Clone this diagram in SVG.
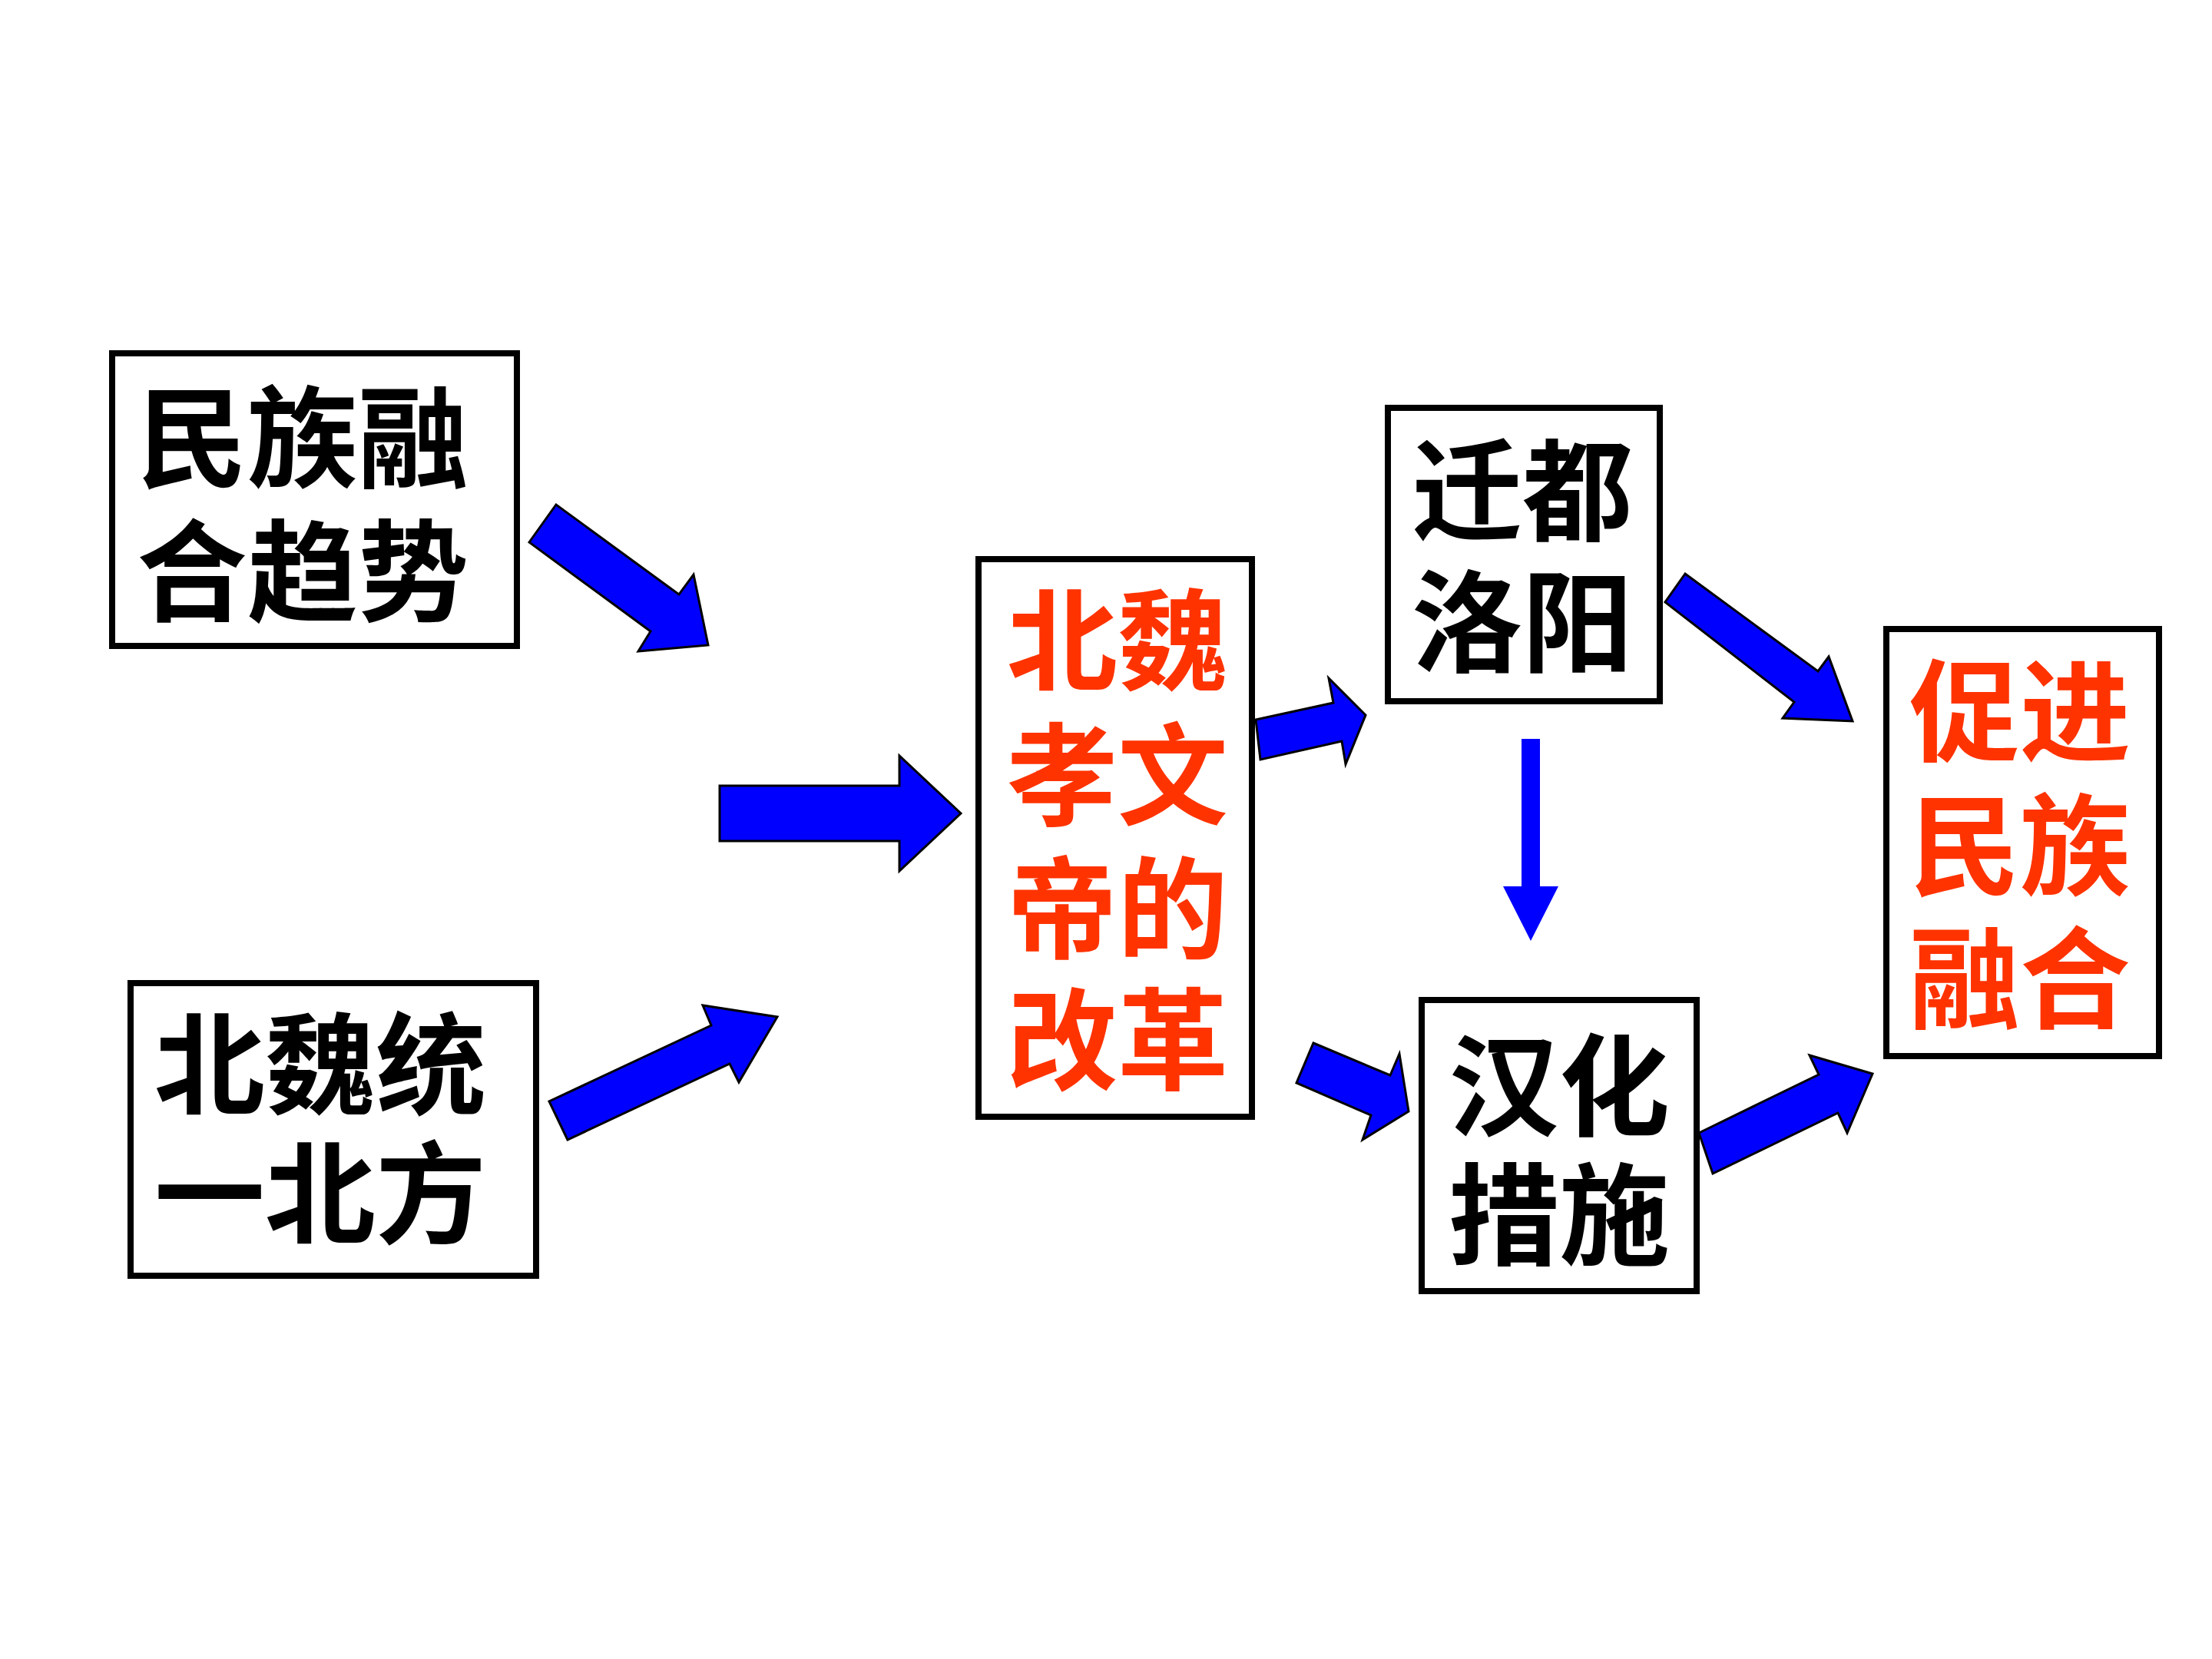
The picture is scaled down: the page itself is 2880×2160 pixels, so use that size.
<svg xmlns="http://www.w3.org/2000/svg" width="2880" height="2160" viewBox="0 0 2880 2160">
<style>
.box{fill:#FFFFFF;stroke:#000000;stroke-width:8}
.t{font-family:"Noto Sans CJK SC","Noto Sans CJK TC",sans-serif;font-size:144px;font-weight:bold;text-anchor:middle}
.blk{fill:#000000}
.red{fill:#FF3300}
.arr{fill:#0000FF;stroke:#000000;stroke-width:3;stroke-linejoin:miter}
.arr2{fill:#0000FF;stroke:none}
</style>
<rect x="0" y="0" width="2880" height="2160" fill="#FFFFFF"/>
<g id="connectors">
<polygon class="arr" points="689,706 724,657 884,774 903,748 922,840 831,848 847,822"/>
<polygon class="arr" points="739,1484 715,1434 926,1335 915,1309 1012,1324 962,1409 950,1385"/>
<polygon class="arr" points="937,1023 1171,1023 1171,984 1251,1059 1171,1134 1171,1095 937,1095"/>
<polygon class="arr" points="1635,937 1736,915 1730,883 1778,931 1752,995 1747,965 1641,989"/>
<polygon class="arr" points="1710,1358 1810,1400 1822,1372 1834,1447 1774,1484 1785,1452 1688,1410"/>
<polygon class="arr2" points="1981,962 2005,962 2005,1154 2029,1154 1993,1225 1957,1154 1981,1154"/>
<polygon class="arr" points="2194,747 2367,874 2381,855 2412,939 2321,935 2336,914 2168,784"/>
<polygon class="arr" points="2212,1475 2368,1399 2356,1374 2438,1398 2405,1475 2393,1449 2230,1528"/>
</g>
<g id="node-trend">
<rect class="box" x="146" y="460" width="527" height="381"/>
<text class="t blk"><tspan x="394" y="624">民族融</tspan><tspan x="394" y="798">合趋势</tspan></text>
</g>
<g id="node-unify">
<rect class="box" x="170" y="1280" width="528" height="381"/>
<text class="t blk"><tspan x="417" y="1440">北魏统</tspan><tspan x="417" y="1608">一北方</tspan></text>
</g>
<g id="node-reform">
<rect class="box" x="1274" y="728" width="356" height="726"/>
<text class="t red"><tspan x="1455" y="888">北魏</tspan><tspan x="1455" y="1063">孝文</tspan><tspan x="1455" y="1237">帝的</tspan><tspan x="1455" y="1408">改革</tspan></text>
</g>
<g id="node-capital">
<rect class="box" x="1807" y="531" width="354" height="382"/>
<text class="t blk"><tspan x="1982" y="693">迁都</tspan><tspan x="1982" y="864">洛阳</tspan></text>
</g>
<g id="node-sinicize">
<rect class="box" x="1851" y="1302" width="358" height="379"/>
<text class="t blk"><tspan x="2030" y="1468">汉化</tspan><tspan x="2030" y="1636">措施</tspan></text>
</g>
<g id="node-result">
<rect class="box" x="2456" y="819" width="355" height="556"/>
<text class="t red"><tspan x="2630" y="980">促进</tspan><tspan x="2630" y="1155">民族</tspan><tspan x="2630" y="1328">融合</tspan></text>
</g>
</svg>
